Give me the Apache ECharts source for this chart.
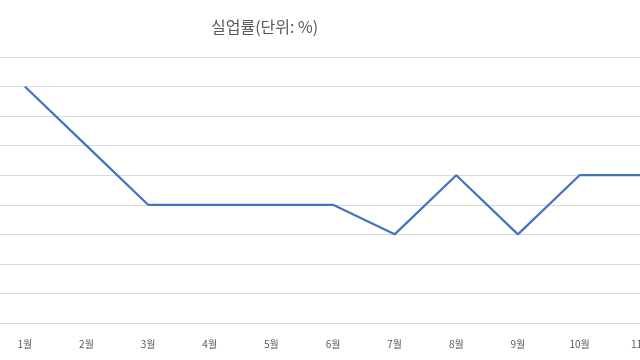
<!DOCTYPE html>
<html><head><meta charset="utf-8">
<script src="https://cdn.jsdelivr.net/npm/echarts@6/dist/echarts.min.js"></script>
<style>html,body{margin:0;padding:0;background:#fff}#c{width:640px;height:360px}</style>
</head><body><div id="c"></div>
<script>
const categories = ['1월','2월','3월','4월','5월','6월','7월','8월','9월','10월','11월'];
const values = [8, 6, 4, 4, 4, 4, 3, 5, 3, 5, 5];
const chart = echarts.init(document.getElementById('c'), null, {renderer:'canvas'});
chart.setOption({
  animation:false,
  backgroundColor:'#fff',
  title:{text:'실업률(단위: %)', left:206, top:14,
    textStyle:{fontFamily:'Noto Sans CJK KR', fontSize:16, fontWeight:'normal', color:'#595959'}},
  grid:{left:-6, right:-32, top:57, bottom:37, containLabel:false, outerBoundsMode:'none'},
  xAxis:{type:'category', data:categories, boundaryGap:true,
    axisLine:{show:true, lineStyle:{color:'#d9d9d9', width:1}},
    axisTick:{show:false},
    axisLabel:{color:'#595959', fontSize:10, margin:16, fontFamily:'Noto Sans CJK KR'}},
  yAxis:{type:'value', min:0, max:9, interval:1,
    axisLabel:{show:false}, axisLine:{show:false}, axisTick:{show:false},
    splitLine:{lineStyle:{color:'#d9d9d9', width:1}}},
  series:[{type:'line', data:values, symbol:'none',
    lineStyle:{color:'#4472C4', width:2.25}, itemStyle:{color:'#4472C4'}}]
});
</script></body></html>
